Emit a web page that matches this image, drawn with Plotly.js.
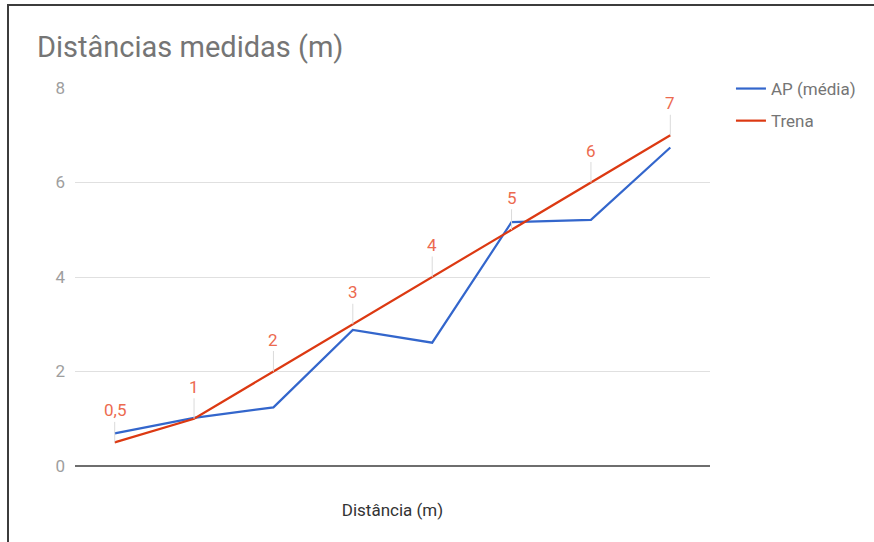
<!DOCTYPE html>
<html>
<head>
<meta charset="utf-8">
<script src="https://cdn.plot.ly/plotly-3.0.1.min.js"></script>
<style>
  html, body { margin: 0; padding: 0; background: #fff; }
  #wrap { position: relative; width: 874px; height: 542px; overflow: hidden; }
  #chart { width: 874px; height: 542px; }
  #frame { position: absolute; left: 7px; top: 4px; right: -10px; bottom: -10px;
           border-left: 2px solid #3c3c3c; border-top: 2px solid #3c3c3c; pointer-events: none; }
</style>
</head>
<body>
<div id="wrap">
  <div id="chart"></div>
  <div id="frame"></div>
</div>
<script>
// Data
var categories = [0, 1, 2, 3, 4, 5, 6, 7];
var apMedia = [0.69, 1.02, 1.24, 2.88, 2.61, 5.16, 5.21, 6.74];
var trena = [0.5, 1, 2, 3, 4, 5, 6, 7];
var trenaLabels = ['0,5', '1', '2', '3', '4', '5', '6', '7'];
var yTicks = [0, 2, 4, 6, 8];

var blue = '#3366cc';
var red = '#dc3912';
var fontFam = 'Roboto, Arial, sans-serif';

var traces = [
  {
    x: categories, y: apMedia, name: 'AP (média)', type: 'scatter', mode: 'lines',
    line: { color: blue, width: 2.2 }, legendgroup: 'a'
  },
  {
    x: categories, y: trena, name: 'Trena', type: 'scatter', mode: 'lines',
    line: { color: red, width: 2.2 }, legendgroup: 'b'
  }
];

var annotations = categories.map(function (c, i) {
  return {
    x: c, y: trena[i], xref: 'x', yref: 'y',
    text: trenaLabels[i],
    showarrow: true, arrowhead: 0, arrowwidth: 1, arrowcolor: '#dadada',
    ax: 0, ay: -32, standoff: 0,
    font: { family: fontFam, size: 17, color: '#ec6a4f' }
  };
});

var layout = {
  width: 874, height: 542,
  margin: { l: 75, r: 164, t: 88, b: 76 },
  paper_bgcolor: '#ffffff', plot_bgcolor: '#ffffff',
  font: { family: fontFam },
  title: {
    text: 'Distâncias medidas (m)',
    x: 37 / 874, xref: 'container', xanchor: 'left',
    y: 1 - 47 / 542, yref: 'container', yanchor: 'middle',
    font: { family: fontFam, size: 29, color: '#757575' }
  },
  xaxis: {
    range: [-0.5, 7.5], showgrid: false, zeroline: false, showticklabels: false,
    showline: false, ticks: '',
    title: { text: 'Distância (m)', standoff: 38, font: { family: fontFam, size: 17, color: '#333333' } }
  },
  yaxis: {
    range: [0, 8], tickvals: yTicks, ticktext: yTicks.map(String),
    showgrid: true, gridcolor: '#e0e0e0', gridwidth: 1,
    zeroline: true, zerolinecolor: '#6e6e6e', zerolinewidth: 2,
    showline: false, ticks: '', ticklabelstandoff: 9,
    tickfont: { family: fontFam, size: 17, color: '#9e9e9e' }
  },
  showlegend: true,
  legend: {
    x: 1.033, xanchor: 'left', y: 1.045, yanchor: 'top',
    traceorder: 'grouped', tracegroupgap: 7,
    font: { family: fontFam, size: 17, color: '#757575' },
    bgcolor: 'rgba(0,0,0,0)'
  },
  annotations: annotations
};

Plotly.newPlot('chart', traces, layout, { displayModeBar: false, staticPlot: true });
</script>
</body>
</html>
